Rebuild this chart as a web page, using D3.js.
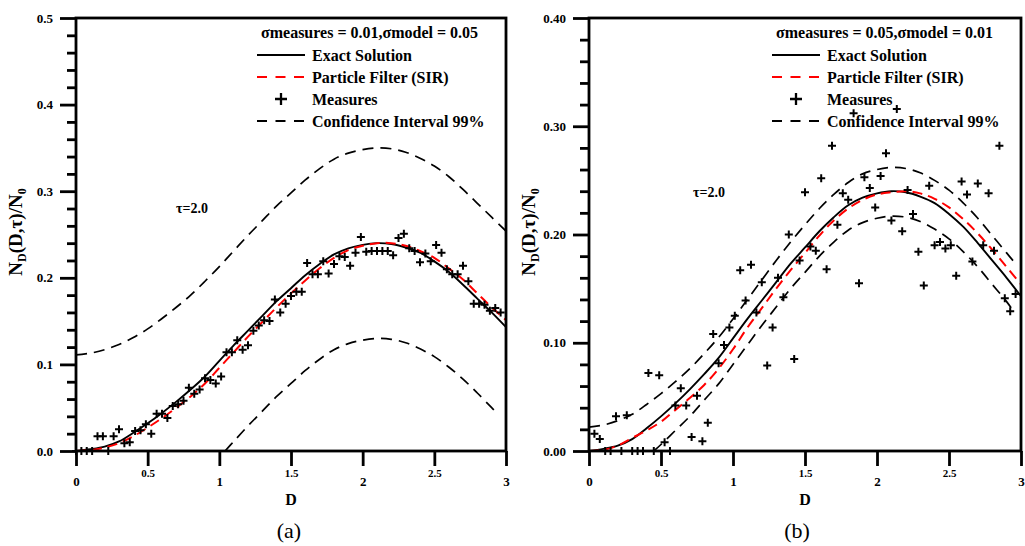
<!DOCTYPE html>
<html>
<head>
<meta charset="utf-8">
<script src="https://cdnjs.cloudflare.com/ajax/libs/d3/7.8.5/d3.min.js"></script>
<style>
  body { margin: 0; background: #fff; }
  svg { display: block; }
</style>
</head>
<body>
<svg id="chart" width="1025" height="546"></svg>
<script>
// ---- data ----
var gridD = [0.0,0.1,0.2,0.3,0.4,0.5,0.6,0.7,0.8,0.9,1.0,1.1,1.2,1.3,1.4,1.5,1.6,1.7,1.8,1.9,2.0,2.1,2.2,2.3,2.4,2.5,2.6,2.7,2.8,2.9,3.0];

// exact solution (same in both panels)
var exact = [0,0.002,0.005,0.011,0.021,0.032,0.044,0.057,0.071,0.086,0.104,0.122,0.139,0.156,0.173,0.188,0.203,0.216,0.227,0.234,0.238,0.240,0.239,0.235,0.229,0.219,0.207,0.192,0.176,0.160,0.143];

// panel (a)
var filterA = [0,0.001,0.004,0.009,0.017,0.027,0.038,0.050,0.063,0.078,0.096,0.114,0.132,0.149,0.166,0.182,0.197,0.211,0.223,0.232,0.237,0.240,0.240,0.237,0.231,0.223,0.211,0.198,0.182,0.166,0.151];
var upperA = [0.111,0.113,0.117,0.123,0.131,0.141,0.153,0.166,0.180,0.196,0.213,0.231,0.249,0.266,0.283,0.298,0.313,0.326,0.337,0.344,0.348,0.350,0.349,0.345,0.338,0.329,0.317,0.302,0.286,0.270,0.254];
var lowerDA = [1.04,1.1,1.2,1.3,1.4,1.5,1.6,1.7,1.8,1.9,2.0,2.1,2.2,2.3,2.4,2.5,2.6,2.7,2.8,2.9,2.93];
var lowerA = [0,0.011,0.029,0.046,0.063,0.078,0.093,0.106,0.117,0.124,0.128,0.130,0.129,0.125,0.118,0.109,0.097,0.083,0.067,0.050,0.045];

var measDA = [0,0.0375,0.075,0.1125,0.15,0.1875,0.225,0.2625,0.3,0.3375,0.375,0.4125,0.45,0.4875,0.525,0.5625,0.6,0.6375,0.675,0.7125,
  0.75,0.7875,0.825,0.8625,0.9,0.9375,0.975,1.0125,1.05,1.0875,1.125,1.1625,1.2,1.2375,1.275,1.3125,1.35,1.3875,1.425,1.4625,
  1.5,1.5375,1.575,1.6125,1.65,1.6875,1.725,1.7625,1.8,1.8375,1.875,1.9125,1.95,1.9875,2.025,2.0625,2.1,2.1375,2.175,2.2125,
  2.25,2.2875,2.325,2.3625,2.4,2.4375,2.475,2.5125,2.55,2.5875,2.625,2.6625,2.7,2.7375,2.775,2.8125,2.85,2.8875,2.925,2.9625];
var measVA = [0,0,0,0,0.017,0.017,0,0.017,0.025,0.009,
  0.010,0.023,0.024,0.031,0.020,0.043,0.043,0.038,0.052,0.054,
  0.058,0.073,0.066,0.071,0.084,0.082,0.078,0.086,0.114,0.114,
  0.128,0.117,0.122,0.139,0.145,0.151,0.150,0.175,0.160,0.170,
  0.179,0.184,0.184,0.217,0.204,0.204,0.219,0.205,0.216,0.225,
  0.224,0.214,0.229,0.247,0.230,0.231,0.231,0.231,0.231,0.226,
  0.246,0.251,0.234,0.231,0.218,0.228,0.219,0.238,0.229,0.210,
  0.204,0.204,0.214,0.196,0.170,0.170,0.169,0.162,0.165,0.160];

// panel (b)
var filterB = [0,0.001,0.005,0.012,0.019,0.027,0.038,0.049,0.061,0.076,0.094,0.114,0.132,0.150,0.167,0.183,0.199,0.213,0.224,0.232,0.237,0.239,0.240,0.238,0.233,0.225,0.214,0.201,0.186,0.170,0.154];
var upperDB = [0.0,0.1,0.2,0.3,0.4,0.5,0.6,0.7,0.8,0.9,1.0,1.1,1.2,1.3,1.4,1.5,1.6,1.7,1.8,1.9,2.0,2.1,2.2,2.3,2.4,2.5,2.6,2.7,2.8,2.9,2.95];
var upperB = [0.022,0.024,0.028,0.034,0.043,0.053,0.064,0.076,0.090,0.105,0.122,0.140,0.158,0.176,0.193,0.209,0.224,0.237,0.248,0.256,0.260,0.262,0.261,0.257,0.250,0.241,0.229,0.215,0.199,0.183,0.175];
var lowerDB = [0.45,0.5,0.6,0.7,0.8,0.9,1.0,1.1,1.2,1.3,1.4,1.5,1.6,1.7,1.8,1.9,2.0,2.1,2.2,2.3,2.4,2.5,2.6,2.7,2.8,2.9,2.96];
var lowerB = [0.0,0.006,0.019,0.032,0.047,0.062,0.080,0.098,0.116,0.133,0.150,0.165,0.180,0.193,0.204,0.211,0.215,0.217,0.216,0.212,0.205,0.196,0.184,0.170,0.154,0.138,0.127];

var measDB = measDA.slice(1);
var measVB = [0.016,0.011,0,0,0.032,0,0.033,0,0,0,
  0.072,0,0.070,0.008,0,0.042,0.058,0.042,0.013,0.051,
  0.009,0.026,0.108,0.081,0.098,0.114,0.125,0.167,0.139,0.172,
  0.128,0.156,0.079,0.114,0.160,0.142,0.200,0.085,0.176,0.239,
  0.189,0.185,0.252,0.168,0.282,0.209,0.238,0.232,0.312,0.155,
  0.253,0.243,0.225,0.254,0.275,0.213,0.316,0.203,0.241,0.219,
  0.184,0.153,0.245,0.190,0.193,0.187,0.190,0.162,0.249,0.237,
  0.175,0.247,0.190,0.238,0.185,0.282,0.141,0.129,0.145];

// ticks and labels
var xMajorTicks = [0, 1, 2, 3];
var xHalfTicks = [0.5, 1.5, 2.5];
var yTicksA = [0, 0.1, 0.2, 0.3, 0.4, 0.5];
var yTicksB = [0, 0.1, 0.2, 0.3, 0.4];
var legendItems = ["Exact Solution", "Particle Filter (SIR)", "Measures", "Confidence Interval 99%"];

var serif = "'Liberation Serif', 'Times New Roman', serif";
var svg = d3.select("#chart");

function zip(xs, ys) {
  return xs.map(function (d, i) { return [d, ys[i]]; });
}

function drawPanel(p) {
  var x = d3.scaleLinear().domain([0, 3]).range([p.left, p.right]);
  var y = d3.scaleLinear().domain([0, p.ymax]).range([p.bottom, p.top]);
  var g = svg.append("g");

  g.append("clipPath").attr("id", "clip" + p.id)
    .append("rect")
    .attr("x", p.left).attr("y", p.top)
    .attr("width", p.right - p.left).attr("height", p.bottom - p.top);

  var line = d3.line()
    .x(function (d) { return x(d[0]); })
    .y(function (d) { return y(d[1]); })
    .curve(d3.curveCatmullRom);

  var plot = g.append("g").attr("clip-path", "url(#clip" + p.id + ")");

  // confidence interval
  [zip(p.upperD, p.upper), zip(p.lowerD, p.lower)].forEach(function (s) {
    plot.append("path").datum(s)
      .attr("d", line)
      .attr("fill", "none").attr("stroke", "#000")
      .attr("stroke-width", 1.7).attr("stroke-dasharray", "11,7");
  });

  // exact
  plot.append("path").datum(zip(gridD, exact))
    .attr("d", line)
    .attr("fill", "none").attr("stroke", "#000").attr("stroke-width", 1.9);

  // particle filter
  plot.append("path").datum(zip(gridD, p.filter))
    .attr("d", line)
    .attr("fill", "none").attr("stroke", "#f00")
    .attr("stroke-width", 2).attr("stroke-dasharray", "10,6");

  // measures
  var a = 4;
  g.append("g").selectAll("path")
    .data(zip(p.measD, p.measV))
    .join("path")
    .attr("transform", function (d) { return "translate(" + x(d[0]) + "," + y(d[1]) + ")"; })
    .attr("d", "M" + (-a) + ",0H" + a + "M0," + (-a) + "V" + a)
    .attr("stroke", "#000").attr("stroke-width", 2);

  // frame
  g.append("rect")
    .attr("x", p.left).attr("y", p.top)
    .attr("width", p.right - p.left).attr("height", p.bottom - p.top)
    .attr("fill", "none").attr("stroke", "#000").attr("stroke-width", 2.8);

  // y axis
  var minor = d3.range(0, p.ymax + 1e-9, 0.02).filter(function (v) {
    return Math.abs(v * 10 - Math.round(v * 10)) > 1e-6;
  });
  var yMinor = g.append("g").attr("transform", "translate(" + p.left + ",0)")
    .call(d3.axisLeft(y).tickValues(minor).tickSize(9).tickFormat(""));
  var yMajor = g.append("g").attr("transform", "translate(" + p.left + ",0)")
    .call(d3.axisLeft(y).tickValues(p.yTicks).tickSize(16).tickPadding(7).tickFormat(d3.format(p.yFmt)));

  // x axis
  var xMajor = g.append("g").attr("transform", "translate(0," + p.bottom + ")")
    .call(d3.axisBottom(x).tickValues(xMajorTicks).tickSize(15).tickFormat(d3.format("d")));
  var xHalf = g.append("g").attr("transform", "translate(0," + p.bottom + ")")
    .call(d3.axisBottom(x).tickValues(xHalfTicks).tickSize(15).tickFormat(d3.format(".1f")));

  [yMinor, yMajor, xMajor, xHalf].forEach(function (ax) {
    ax.select(".domain").remove();
    ax.selectAll(".tick line").attr("stroke", "#000").attr("stroke-width", 2.8);
    ax.selectAll("text")
      .attr("font-family", serif).attr("font-weight", "bold")
      .attr("fill", "#000").attr("font-size", 13);
  });
  xMajor.selectAll("text").attr("y", 35).attr("dy", 0);
  xHalf.selectAll("text").attr("y", 26).attr("dy", 0).attr("font-size", 11);

  // axis titles
  var cx = (p.left + p.right) / 2;
  g.append("text")
    .attr("x", cx).attr("y", 505)
    .attr("text-anchor", "middle")
    .attr("font-family", serif).attr("font-weight", "bold").attr("font-size", 16)
    .text("D");

  var yt = g.append("text")
    .attr("transform", "translate(" + p.ytx + ",232) rotate(-90)")
    .attr("text-anchor", "middle")
    .attr("font-family", serif).attr("font-weight", "bold").attr("font-size", 19);
  yt.append("tspan").text("N");
  yt.append("tspan").attr("font-size", 12).attr("dy", 4).text("D");
  yt.append("tspan").attr("dy", -4).text("(D,τ)/N");
  yt.append("tspan").attr("font-size", 12).attr("dy", 4).text("0");

  g.append("text")
    .attr("x", p.capX).attr("y", 538)
    .attr("text-anchor", "middle")
    .attr("font-family", serif).attr("font-size", 22)
    .text(p.caption);

  g.append("text")
    .attr("x", p.tauX).attr("y", p.tauY)
    .attr("font-family", serif).attr("font-weight", "bold").attr("font-size", 14)
    .text("τ=2.0");

  // legend
  var lg = g.append("g").attr("font-family", serif).attr("font-weight", "bold").attr("font-size", 16);
  lg.append("text").attr("x", p.lx + 4).attr("y", 38).text(p.legendTitle);
  var rows = [55, 77, 99, 121];
  rows.forEach(function (ry, i) {
    lg.append("text").attr("x", p.lx + 55).attr("y", ry + 6).text(legendItems[i]);
  });
  lg.append("line").attr("x1", p.lx).attr("x2", p.lx + 48).attr("y1", rows[0]).attr("y2", rows[0])
    .attr("stroke", "#000").attr("stroke-width", 1.9);
  lg.append("line").attr("x1", p.lx).attr("x2", p.lx + 48).attr("y1", rows[1]).attr("y2", rows[1])
    .attr("stroke", "#f00").attr("stroke-width", 2).attr("stroke-dasharray", "10,8.5");
  lg.append("path")
    .attr("d", "M" + (p.lx + 18) + "," + rows[2] + "h12M" + (p.lx + 24) + "," + (rows[2] - 6) + "v12")
    .attr("stroke", "#000").attr("stroke-width", 2.3);
  lg.append("line").attr("x1", p.lx).attr("x2", p.lx + 48).attr("y1", rows[3]).attr("y2", rows[3])
    .attr("stroke", "#000").attr("stroke-width", 1.9).attr("stroke-dasharray", "10,8.5");
}

drawPanel({
  id: "a", left: 76, right: 506, top: 18, bottom: 451, ymax: 0.5,
  yTicks: yTicksA, yFmt: ".1f", filter: filterA,
  upperD: gridD, upper: upperA, lowerD: lowerDA, lower: lowerA,
  measD: measDA, measV: measVA,
  ytx: 22, capX: 289, caption: "(a)", tauX: 176, tauY: 213,
  lx: 257, legendTitle: "σmeasures = 0.01,σmodel = 0.05"
});

drawPanel({
  id: "b", left: 589, right: 1021, top: 18, bottom: 451, ymax: 0.4,
  yTicks: yTicksB, yFmt: ".2f", filter: filterB,
  upperD: upperDB, upper: upperB, lowerD: lowerDB, lower: lowerB,
  measD: measDB, measV: measVB,
  ytx: 535, capX: 797, caption: "(b)", tauX: 693, tauY: 197,
  lx: 772, legendTitle: "σmeasures = 0.05,σmodel = 0.01"
});
</script>
</body>
</html>
